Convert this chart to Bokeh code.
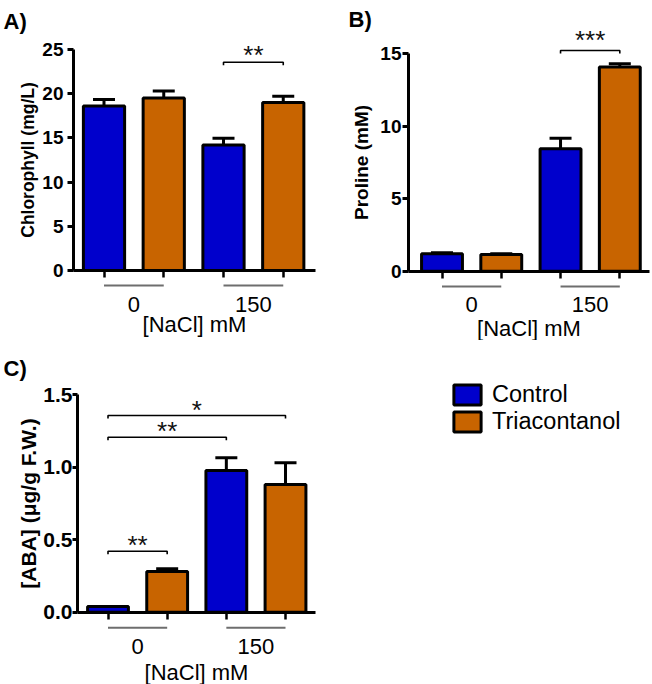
from bokeh.plotting import figure
from bokeh.layouts import column, row
from bokeh.models import (ColumnDataSource, FixedTicker, Whisker, TeeHead,
                          Legend, LegendItem, Range1d, NumeralTickFormatter)
from bokeh.embed import file_html
from bokeh.resources import INLINE
from bokeh.core.properties import value

# ---------------- data ----------------
nacl_groups = ["0", "150"]          # [NaCl] mM
treatments = ["Control", "Triacontanol"]
x_title = "[NaCl] mM"

chl_mean = [18.6, 19.5, 14.2, 19.0]
chl_sem = [0.75, 0.8, 0.77, 0.7]
chl_ticks = [0, 5, 10, 15, 20, 25]
chl_pairs = [(3, 4)]
chl_stars = ["**"]

pro_mean = [1.2, 1.15, 8.45, 14.1]
pro_sem = [0.08, 0.05, 0.73, 0.22]
pro_ticks = [0, 5, 10, 15]
pro_pairs = [(3, 4)]
pro_stars = ["***"]

aba_mean = [0.04, 0.28, 0.977, 0.88]
aba_sem = [0.0, 0.02, 0.087, 0.15]
aba_ticks = [0, 0.5, 1.0, 1.5]
aba_pairs = [(1, 2), (1, 3), (1, 4)]
aba_stars = ["**", "**", "*"]

# ---------------- style ----------------
FONT = "Liberation Sans"
COLORS = {"Control": "#0000CC", "Triacontanol": "#C86400"}
GRAY = "#6E6E6E"


def panel(letter, means, sems, ylabel, ticks, fmt, pairs, stars, cfg):
    W, H = cfg["W"], cfg["H"]
    xref, ppx = cfg["xref"], cfg["ppx"]
    y0px, ppy = cfg["y0px"], cfg["ppy"]

    def dx(px):
        return 1 + (px - xref) / ppx

    def dy(py):
        return (y0px - py) / ppy

    p = figure(width=W, height=H, x_range=Range1d(dx(0), dx(W)),
               y_range=Range1d(dy(H), dy(0)),
               output_backend="svg", toolbar_location=None,
               min_border_left=0, min_border_right=0,
               min_border_top=0, min_border_bottom=0)
    p.outline_line_color = None
    p.xgrid.visible = False
    p.ygrid.visible = False

    n = len(means)
    xs = list(range(1, n + 1))
    trt = [treatments[i % 2] for i in range(n)]
    src = ColumnDataSource(dict(
        x=xs, top=means, upper=[m + s for m, s in zip(means, sems)],
        color=[COLORS[t] for t in trt]))
    bars = p.vbar(x="x", top="top", bottom=0, width=0.69, fill_color="color",
                  line_color="black", line_width=3, source=src)
    p.add_layout(Whisker(source=src, base="x", upper="upper", lower="top",
                         line_color="black", line_width=3,
                         upper_head=TeeHead(size=22, line_width=3, line_color="black"),
                         lower_head=None))

    yx = dx(cfg["yaxis_px"])
    # y axis (fixed at left end of x axis)
    ya = p.yaxis[0]
    ya.fixed_location = yx
    ya.ticker = FixedTicker(ticks=ticks)
    ya.bounds = (0, ticks[-1])
    if fmt:
        ya.formatter = NumeralTickFormatter(format=fmt)
    ya.axis_label = ylabel
    ya.axis_label_text_font = FONT
    ya.axis_label_text_font_style = "bold"
    ya.axis_label_text_font_size = cfg["yls"]
    ya.axis_label_text_color = "black"
    ya.axis_label_standoff = cfg["als"]
    ya.major_label_text_font = FONT
    ya.major_label_text_font_style = "bold"
    ya.major_label_text_font_size = cfg["tfs"]
    ya.major_label_text_color = "black"
    ya.major_label_standoff = cfg["mls"]
    ya.axis_line_width = 3
    ya.major_tick_line_width = 3
    ya.major_tick_out = cfg["tout"]
    ya.major_tick_in = 0
    ya.minor_tick_line_color = None

    # x axis fixed at y = 0: minor ticks at bars, labels at group centres
    gx0 = [xs[2 * g] for g in range(len(nacl_groups))]
    gx1 = [xs[2 * g + 1] for g in range(len(nacl_groups))]
    gxc = [(a + b) / 2 for a, b in zip(gx0, gx1)]
    xa = p.xaxis[0]
    xa.fixed_location = 0
    xa.bounds = (yx, dx(cfg["xend_px"]))
    xa.ticker = FixedTicker(ticks=gxc, minor_ticks=xs)
    xa.major_label_overrides = {c: g for c, g in zip(gxc, nacl_groups)}
    xa.major_tick_line_color = None
    xa.major_tick_out = 0
    xa.major_tick_in = 0
    xa.minor_tick_line_color = "black"
    xa.minor_tick_line_width = 2.5
    xa.minor_tick_out = 7
    xa.minor_tick_in = 0
    xa.major_label_standoff = cfg["xmls"]
    xa.major_label_text_font = FONT
    xa.major_label_text_font_size = "22px"
    xa.major_label_text_color = "black"
    xa.axis_label = x_title
    xa.axis_label_text_font = FONT
    xa.axis_label_text_font_style = "normal"
    xa.axis_label_text_font_size = "22px"
    xa.axis_label_text_color = "black"
    xa.axis_label_standoff = cfg["xals"]
    xa.axis_line_width = 3

    # group underlines
    gl = dy(cfg["gline"])
    p.segment(x0=gx0, x1=gx1, y0=[gl] * len(gx0), y1=[gl] * len(gx0),
              line_color=GRAY, line_width=2)

    # significance brackets
    tick = 3 / ppy
    bxs, bys, sx, sy = [], [], [], []
    for (a, b), lev in zip(pairs, cfg["levels"]):
        L = dy(lev)
        bxs.append([a, a, b, b])
        bys.append([L - tick, L, L, L - tick])
        sx.append((a + b) / 2)
        sy.append(dy(lev - cfg["soff"]))
    p.multi_line(xs=bxs, ys=bys, line_color="black", line_width=1.6)
    p.text(x=sx, y=sy, text=stars, text_font=value(FONT), text_font_size="26px",
           text_align="center", text_baseline="middle", text_color="#111111")

    # panel letter
    lx, ly = cfg["letter"]
    p.text(x=[dx(lx)], y=[dy(ly)], text=[letter], text_font=value(FONT),
           text_font_style="bold", text_font_size="22px",
           text_baseline="alphabetic", text_align="left", text_color="black")
    return p, bars


cfgA = dict(W=330, H=340, xref=103.5, ppx=59.75, y0px=270, ppy=8.84,
            yaxis_px=73, xend_px=315, yls="17.5px", als=1, mls=4, tout=6, tfs="19px",
            xmls=19, xals=-3, gline=285, levels=[61.7], soff=7, letter=(3, 21))
cfgB = dict(W=322, H=340, xref=111.5, ppx=59.27, y0px=270.7, ppy=14.49,
            yaxis_px=78, xend_px=319, yls="19px", als=5, mls=1, tout=6, tfs="19px",
            xmls=19, xals=0, gline=286, levels=[50], soff=11, letter=(18, 19))
cfgC = dict(W=652, H=344, xref=107.5, ppx=59.17, y0px=271.7, ppy=145.1,
            yaxis_px=77, xend_px=315, yls="21px", als=0, mls=0, tout=5, tfs="21px",
            xmls=20, xals=2, gline=287.3, levels=[210.7, 96.7, 75], soff=6,
            letter=(3, 28))

pA, _ = panel("A)", chl_mean, chl_sem, "Chlorophyll (mg/L)", chl_ticks, None,
              chl_pairs, chl_stars, cfgA)
pB, _ = panel("B)", pro_mean, pro_sem, "Proline (mM)", pro_ticks, None,
              pro_pairs, pro_stars, cfgB)
pC, barsC = panel("C)", aba_mean, aba_sem, "[ABA] (\u03bcg/g F.W.)", aba_ticks, "0.0",
                  aba_pairs, aba_stars, cfgC)

# legend (inside panel C's canvas, to the right of the bars)
items = [LegendItem(label=t, renderers=[barsC], index=i) for i, t in enumerate(treatments)]
leg = Legend(items=items, location=(450, 249), glyph_width=34, glyph_height=25,
             spacing=0, padding=0, margin=0, label_standoff=8,
             label_text_font=FONT, label_text_font_size="23.5px",
             label_text_color="black",
             border_line_color=None, background_fill_alpha=0)
pC.add_layout(leg)

layout = column(row(pA, pB), pC)

with open("out.html", "w") as f:
    f.write(file_html(layout, INLINE))
